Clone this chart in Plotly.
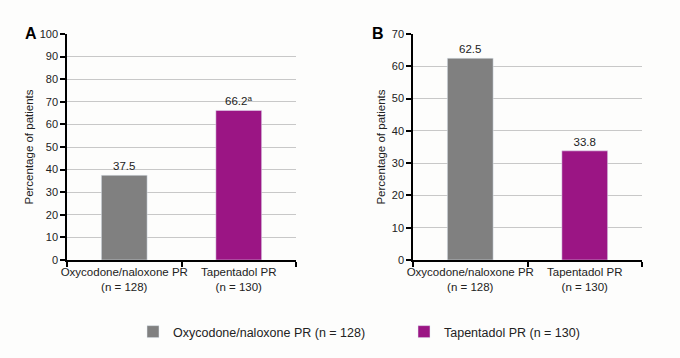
import plotly.graph_objects as go

categories = ["Oxycodone/naloxone PR<br>(n = 128)", "Tapentadol PR<br>(n = 130)"]
legend_names = ["Oxycodone/naloxone PR (n = 128)", "Tapentadol PR (n = 130)"]
panel_a_values = [37.5, 66.2]
panel_a_labels = ["37.5", "66.2<sup>a</sup>"]
panel_b_values = [62.5, 33.8]
panel_b_labels = ["62.5", "33.8"]
colors = ["#808080", "#9b1584"]

W, H = 680, 358
FONT = "Liberation Sans, Arial, sans-serif"

fig = go.Figure()

for i in range(2):
    fig.add_trace(go.Bar(
        x=[categories[i]], y=[panel_a_values[i]], text=[panel_a_labels[i]],
        textposition="outside", marker_color=colors[i], name=legend_names[i],
        showlegend=True, xaxis="x", yaxis="y", cliponaxis=False,
        textfont=dict(size=11.5, color="#222", family=FONT),
    ))
for i in range(2):
    fig.add_trace(go.Bar(
        x=[categories[i]], y=[panel_b_values[i]], text=[panel_b_labels[i]],
        textposition="outside", marker_color=colors[i], name=legend_names[i],
        showlegend=False, xaxis="x2", yaxis="y2", cliponaxis=False,
        textfont=dict(size=11.5, color="#222", family=FONT),
    ))

def px_x(v):
    return v / W

def px_y(v):
    return 1 - v / H

ydom = [px_y(260), px_y(34)]
xcommon = dict(type="category", categoryorder="array", categoryarray=categories,
               range=[-0.5, 1.5], showline=True, linecolor="black", linewidth=1.5,
               ticks="outside", tickson="boundaries", ticklen=5, tickcolor="black",
               tickwidth=1.5, tickangle=0, automargin=False,
               tickfont=dict(size=11.5, color="#222", family=FONT),
               showgrid=False, zeroline=False)
ycommon = dict(showline=True, linecolor="black", linewidth=1.5, ticks="outside",
               ticklen=5, tickcolor="black", tickwidth=1.5, automargin=False,
               tickfont=dict(size=11, color="#222", family=FONT),
               showgrid=True, gridcolor="#c8c8c8", gridwidth=1, zeroline=False,
               title=dict(text="Percentage of patients",
                          font=dict(size=11.5, color="#222", family=FONT), standoff=4))

fig.update_layout(
    width=W, height=H,
    margin=dict(l=0, r=0, t=0, b=0),
    paper_bgcolor="#fdfdfc", plot_bgcolor="#fdfdfc",
    bargap=0.6,
    font=dict(family=FONT, color="#222"),
    xaxis=dict(domain=[px_x(67), px_x(296)], anchor="y", **xcommon),
    yaxis=dict(domain=ydom, anchor="x", range=[0, 100], dtick=10, **ycommon),
    xaxis2=dict(domain=[px_x(413), px_x(642)], anchor="y2", **xcommon),
    yaxis2=dict(domain=ydom, anchor="x2", range=[0, 70], dtick=10, **ycommon),
    legend=dict(orientation="h", x=px_x(133), y=px_y(332), yanchor="middle",
                xanchor="left", entrywidth=226, entrywidthmode="pixels",
                font=dict(size=12.5, color="#222", family=FONT),
                bgcolor="rgba(0,0,0,0)"),
    annotations=[
        dict(text="<b>A</b>", x=px_x(31), y=px_y(33), xref="paper", yref="paper",
             xanchor="center", yanchor="middle",
             showarrow=False, font=dict(size=16, color="black", family=FONT)),
        dict(text="<b>B</b>", x=px_x(378), y=px_y(33), xref="paper", yref="paper",
             xanchor="center", yanchor="middle",
             showarrow=False, font=dict(size=16, color="black", family=FONT)),
    ],
)

fig.write_html("out.html", post_script="document.body.style.margin='0';",
               config={"displayModeBar": False})
